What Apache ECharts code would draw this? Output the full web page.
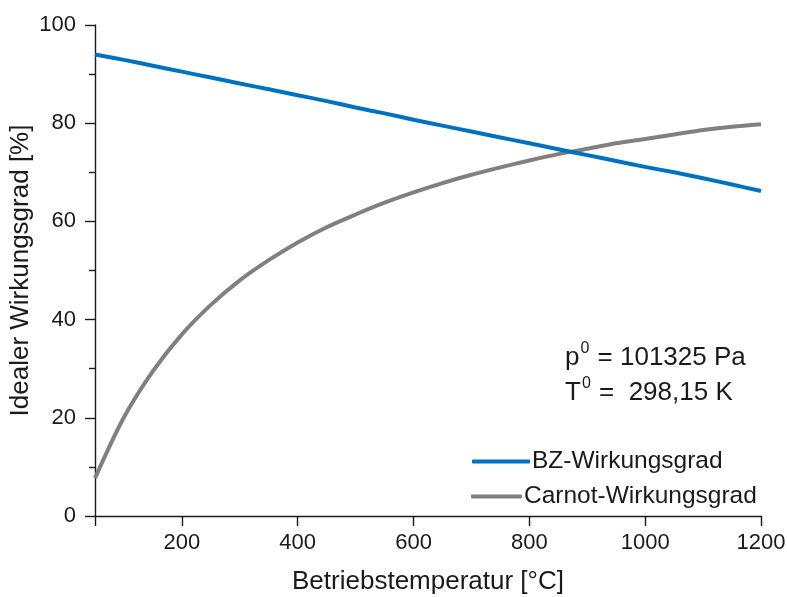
<!DOCTYPE html>
<html>
<head>
<meta charset="utf-8">
<script src="https://cdn.jsdelivr.net/npm/echarts@6/dist/echarts.min.js"></script>
<style>
  html, body { margin: 0; padding: 0; background: #fff; }
  #chart { width: 787px; height: 597px; }
</style>
</head>
<body>
<div id="chart"></div>
<script>
// Operating temperature in °C
const temperatures = [50, 100, 150, 200, 250, 300, 350, 400, 450, 500, 550, 600,
                      650, 700, 750, 800, 850, 900, 950, 1000, 1050, 1100, 1150, 1200];
// Ideal fuel cell efficiency (%)
const bzEfficiency = [94.0, 92.9, 91.7, 90.5, 89.3, 88.1, 86.9, 85.7, 84.5, 83.2, 82.0, 80.7,
                      79.5, 78.3, 77.1, 75.9, 74.7, 73.5, 72.3, 71.1, 70.0, 68.8, 67.5, 66.2];
// Carnot efficiency (%)
const carnotEfficiency = [7.7, 20.1, 29.5, 37.0, 43.0, 48.0, 52.1, 55.7, 58.8, 61.4, 63.8, 65.9,
                          67.8, 69.5, 71.0, 72.4, 73.7, 74.8, 75.9, 76.8, 77.7, 78.6, 79.3, 79.8];
const xTickLabels = [200, 400, 600, 800, 1000, 1200];
const xTicks = [50, 200, 400, 600, 800, 1000, 1200];
const seriesNames = ['BZ-Wirkungsgrad', 'Carnot-Wirkungsgrad'];

const FONT = '"Liberation Sans", Arial, sans-serif';
const INK = '#1a1a1a';
const BLUE = '#0070C0';
const GRAY = '#808080';

const pairs = (xs, ys) => xs.map((x, i) => [x, ys[i]]);

const chart = echarts.init(document.getElementById('chart'), null, { renderer: 'canvas' });

// Rich styles for the reference-state note (value text with superscript 0)
const noteRich = {
  b: { fontFamily: FONT, fontSize: 26, fill: INK, lineHeight: 30, verticalAlign: 'bottom' },
  s: { fontFamily: FONT, fontSize: 16, fill: INK, lineHeight: 16, verticalAlign: 'top', padding: [0, 1, 0, 1] }
};

chart.setOption({
  animation: false,
  backgroundColor: '#ffffff',
  grid: { left: 95, right: 26, top: 25, bottom: 81, containLabel: false, outerBoundsMode: 'none' },
  xAxis: {
    type: 'value',
    min: 50,
    max: 1200,
    name: 'Betriebstemperatur [°C]',
    nameLocation: 'middle',
    nameGap: 53,
    nameMoveOverlap: false,
    nameTextStyle: { fontFamily: FONT, fontSize: 26, color: INK },
    axisLine: { show: true, onZero: false, lineStyle: { color: INK, width: 1.4 } },
    axisTick: { show: true, inside: false, length: 10, customValues: xTicks,
                lineStyle: { color: INK, width: 1.4 } },
    axisLabel: { show: true, customValues: xTickLabels, margin: 16,
                 formatter: v => String(v),
                 fontFamily: FONT, fontSize: 22, color: INK },
    splitLine: { show: false }
  },
  yAxis: {
    type: 'value',
    min: 0,
    max: 100,
    interval: 20,
    name: 'Idealer Wirkungsgrad [%]',
    nameLocation: 'middle',
    nameRotate: 90,
    nameGap: 61,
    nameMoveOverlap: false,
    nameTextStyle: { fontFamily: FONT, fontSize: 26, color: INK },
    axisLine: { show: true, lineStyle: { color: INK, width: 1.4 } },
    axisTick: { show: true, inside: false, length: 10, lineStyle: { color: INK, width: 1.4 } },
    minorTick: { show: true, splitNumber: 2, length: 6, lineStyle: { color: INK, width: 1.4 } },
    axisLabel: { margin: 19, fontFamily: FONT, fontSize: 22, color: INK },
    splitLine: { show: false },
    minorSplitLine: { show: false }
  },
  legend: [
    {
      data: [seriesNames[0]],
      left: 467, top: 444,
      icon: 'roundRect',
      itemWidth: 58, itemHeight: 4, itemGap: 6,
      textStyle: { fontFamily: FONT, fontSize: 24.5, color: INK, padding: [0, 0, 0, -3] },
      selectedMode: false
    },
    {
      data: [seriesNames[1]],
      left: 466, top: 479,
      icon: 'roundRect',
      itemWidth: 51, itemHeight: 4, itemGap: 6,
      textStyle: { fontFamily: FONT, fontSize: 24.5, color: INK, padding: [0, 0, 0, -3] },
      selectedMode: false
    }
  ],
  graphic: [
    {
      type: 'text',
      left: 565, top: 341,
      style: { text: '{b|p}{s|0}{b| = 101325 Pa}', rich: noteRich }
    },
    {
      type: 'text',
      left: 565, top: 376,
      style: { text: '{b|T}{s|0}{b| =  298,15 K}', rich: noteRich }
    }
  ],
  series: [
    {
      name: seriesNames[0],
      type: 'line',
      data: pairs(temperatures, bzEfficiency),
      smooth: 0.3,
      showSymbol: false,
      symbol: 'none',
      color: BLUE,
      lineStyle: { color: BLUE, width: 4 },
      z: 3
    },
    {
      name: seriesNames[1],
      type: 'line',
      data: pairs(temperatures, carnotEfficiency),
      smooth: 0.3,
      showSymbol: false,
      symbol: 'none',
      color: GRAY,
      lineStyle: { color: GRAY, width: 4 },
      z: 2
    }
  ]
});
</script>
</body>
</html>
